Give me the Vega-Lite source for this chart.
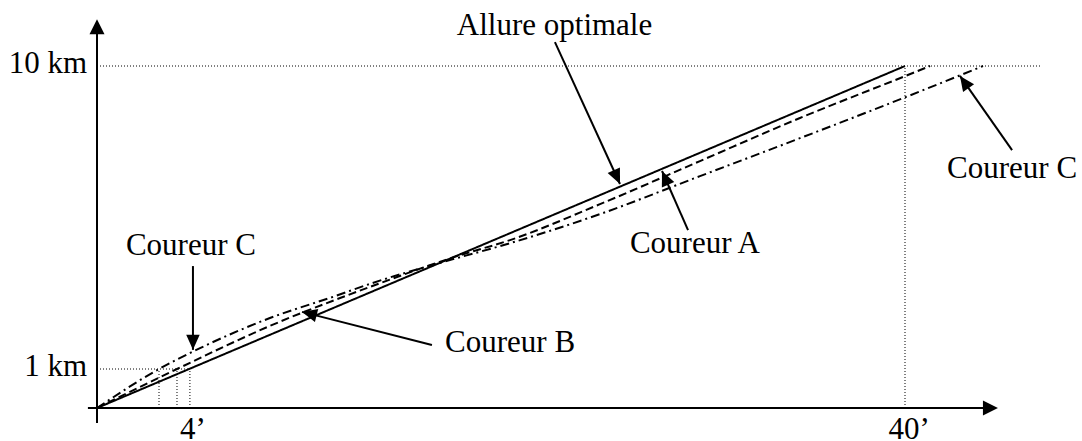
{
  "$schema": "https://vega.github.io/schema/vega-lite/v6.json",
  "width": 1082,
  "height": 441,
  "padding": 0,
  "autosize": "none",
  "background": "white",
  "config": {"view": {"stroke": null}},
  "datasets": {
    "curves": [
      {"runner": "Allure optimale", "m": 0, "km": 0},
      {"runner": "Allure optimale", "m": 40, "km": 10},
      {"runner": "Coureur A", "m": 0, "km": 0},
      {"runner": "Coureur A", "m": 3.96, "km": 1.14},
      {"runner": "Coureur A", "m": 8.56, "km": 2.40},
      {"runner": "Coureur A", "m": 13.51, "km": 3.54},
      {"runner": "Coureur A", "m": 17.82, "km": 4.44},
      {"runner": "Coureur A", "m": 20.45, "km": 4.91},
      {"runner": "Coureur A", "m": 24.90, "km": 5.96},
      {"runner": "Coureur A", "m": 29.85, "km": 7.22},
      {"runner": "Coureur A", "m": 34.80, "km": 8.48},
      {"runner": "Coureur A", "m": 39.90, "km": 9.68},
      {"runner": "Coureur A", "m": 41.24, "km": 10.0},
      {"runner": "Coureur C", "m": 0, "km": 0},
      {"runner": "Coureur C", "m": 3.07, "km": 1.14},
      {"runner": "Coureur C", "m": 5.10, "km": 1.75},
      {"runner": "Coureur C", "m": 8.56, "km": 2.63},
      {"runner": "Coureur C", "m": 11.78, "km": 3.27},
      {"runner": "Coureur C", "m": 13.51, "km": 3.63},
      {"runner": "Coureur C", "m": 17.13, "km": 4.27},
      {"runner": "Coureur C", "m": 20.45, "km": 4.82},
      {"runner": "Coureur C", "m": 24.90, "km": 5.67},
      {"runner": "Coureur C", "m": 29.85, "km": 6.78},
      {"runner": "Coureur C", "m": 34.80, "km": 7.89},
      {"runner": "Coureur C", "m": 39.90, "km": 9.06},
      {"runner": "Coureur C", "m": 43.86, "km": 10.0}
    ],
    "guides": [
      {"m": 0, "km": 10, "m2": 46.78, "km2": 10},
      {"m": 0, "km": 1.14, "m2": 4.6, "km2": 1.14},
      {"m": 3.07, "km": 0, "m2": 3.07, "km2": 1.14},
      {"m": 3.96, "km": 0, "m2": 3.96, "km2": 1.14},
      {"m": 4.6, "km": 0, "m2": 4.6, "km2": 1.14},
      {"m": 40, "km": 0, "m2": 40, "km2": 10}
    ],
    "axes": [
      {"id": "y", "m": 0, "km": -0.44, "m2": 0, "km2": 11.1},
      {"id": "x", "m": -0.45, "km": 0, "m2": 44.3, "km2": 0}
    ],
    "axisTips": [
      {"id": "y", "m": 0, "km": 11.37},
      {"id": "x", "m": 44.6, "km": 0}
    ],
    "arrows": [
      {"id": "opt", "m": 22.67, "km": 10.70, "m2": 25.89, "km2": 6.55},
      {"id": "A", "m": 29.26, "km": 5.20, "m2": 27.97, "km2": 6.93},
      {"id": "B", "m": 16.58, "km": 1.84, "m2": 10.15, "km2": 2.81},
      {"id": "C1", "m": 4.75, "km": 4.15, "m2": 4.75, "km2": 1.70},
      {"id": "C2", "m": 45.30, "km": 7.54, "m2": 42.72, "km2": 9.71}
    ],
    "labels": [
      {"text": "Allure optimale", "m": 22.65, "km": 10.91, "side": "c"},
      {"text": "Coureur A", "m": 29.6, "km": 4.53, "side": "c"},
      {"text": "Coureur B", "m": 20.45, "km": 1.64, "side": "c"},
      {"text": "Coureur C", "m": 4.65, "km": 4.47, "side": "c"},
      {"text": "Coureur C", "m": 45.3, "km": 6.73, "side": "c"},
      {"text": "4’", "m": 4.75, "km": -0.906, "side": "c"},
      {"text": "40’", "m": 40.2, "km": -0.906, "side": "c"},
      {"text": "10 km", "m": -0.495, "km": 9.80, "side": "r"},
      {"text": "1 km", "m": -0.495, "km": 0.936, "side": "r"}
    ]
  },
  "layer": [
    {
      "data": {"name": "guides"},
      "mark": {"type": "rule", "color": "black", "strokeWidth": 1, "strokeDash": [1, 2]},
      "encoding": {
        "x": {"field": "m", "type": "quantitative", "scale": {"domain": [-4.802, 48.762], "nice": false, "zero": false}, "axis": null},
        "y": {"field": "km", "type": "quantitative", "scale": {"domain": [-0.9649, 11.93], "nice": false, "zero": false}, "axis": null},
        "x2": {"field": "m2"},
        "y2": {"field": "km2"}
      }
    },
    {
      "data": {"name": "axes"},
      "mark": {"type": "rule", "color": "black", "strokeWidth": 2},
      "encoding": {
        "x": {"field": "m", "type": "quantitative", "scale": {"domain": [-4.802, 48.762], "nice": false, "zero": false}, "axis": null},
        "y": {"field": "km", "type": "quantitative", "scale": {"domain": [-0.9649, 11.93], "nice": false, "zero": false}, "axis": null},
        "x2": {"field": "m2"},
        "y2": {"field": "km2"}
      }
    },
    {
      "data": {"name": "curves"},
      "mark": {"type": "line", "color": "black", "strokeWidth": 2, "interpolate": "monotone", "strokeCap": "butt"},
      "encoding": {
        "x": {"field": "m", "type": "quantitative", "scale": {"domain": [-4.802, 48.762], "nice": false, "zero": false}, "axis": null},
        "y": {"field": "km", "type": "quantitative", "scale": {"domain": [-0.9649, 11.93], "nice": false, "zero": false}, "axis": null},
        "strokeDash": {"field": "runner", "type": "nominal", "scale": {"domain": ["Allure optimale", "Coureur A", "Coureur C"], "range": [[1, 0], [8, 4], [9, 4, 2, 4]]}, "legend": null}
      }
    },
    {
      "data": {"name": "arrows"},
      "mark": {"type": "rule", "color": "black", "strokeWidth": 2},
      "encoding": {
        "x": {"field": "m", "type": "quantitative", "scale": {"domain": [-4.802, 48.762], "nice": false, "zero": false}, "axis": null},
        "y": {"field": "km", "type": "quantitative", "scale": {"domain": [-0.9649, 11.93], "nice": false, "zero": false}, "axis": null},
        "x2": {"field": "m2"},
        "y2": {"field": "km2"}
      }
    },
    {
      "data": {"name": "axisTips"},
      "transform": [{"filter": "datum.id === 'y'"}],
      "mark": {"type": "point", "shape": "M0,0L-1,2L1,2Z", "size": 225, "filled": true, "color": "black", "opacity": 1, "angle": 0},
      "encoding": {
        "x": {"field": "m", "type": "quantitative", "axis": null},
        "y": {"field": "km", "type": "quantitative", "axis": null}
      }
    },
    {
      "data": {"name": "axisTips"},
      "transform": [{"filter": "datum.id === 'x'"}],
      "mark": {"type": "point", "shape": "M0,0L-1,2L1,2Z", "size": 225, "filled": true, "color": "black", "opacity": 1, "angle": 90},
      "encoding": {
        "x": {"field": "m", "type": "quantitative", "axis": null},
        "y": {"field": "km", "type": "quantitative", "axis": null}
      }
    },
    {
      "data": {"name": "arrows"},
      "transform": [{"filter": "datum.id === 'opt'"}],
      "mark": {"type": "point", "shape": "M0,0L-0.9,2L0.9,2Z", "size": 225, "filled": true, "color": "black", "opacity": 1, "angle": 155.7},
      "encoding": {
        "x": {"field": "m2", "type": "quantitative", "axis": null},
        "y": {"field": "km2", "type": "quantitative", "axis": null}
      }
    },
    {
      "data": {"name": "arrows"},
      "transform": [{"filter": "datum.id === 'A'"}],
      "mark": {"type": "point", "shape": "M0,0L-0.9,2L0.9,2Z", "size": 225, "filled": true, "color": "black", "opacity": 1, "angle": 336.2},
      "encoding": {
        "x": {"field": "m2", "type": "quantitative", "axis": null},
        "y": {"field": "km2", "type": "quantitative", "axis": null}
      }
    },
    {
      "data": {"name": "arrows"},
      "transform": [{"filter": "datum.id === 'B'"}],
      "mark": {"type": "point", "shape": "M0,0L-0.9,2L0.9,2Z", "size": 225, "filled": true, "color": "black", "opacity": 1, "angle": 284.2},
      "encoding": {
        "x": {"field": "m2", "type": "quantitative", "axis": null},
        "y": {"field": "km2", "type": "quantitative", "axis": null}
      }
    },
    {
      "data": {"name": "arrows"},
      "transform": [{"filter": "datum.id === 'C1'"}],
      "mark": {"type": "point", "shape": "M0,0L-0.9,2L0.9,2Z", "size": 225, "filled": true, "color": "black", "opacity": 1, "angle": 180},
      "encoding": {
        "x": {"field": "m2", "type": "quantitative", "axis": null},
        "y": {"field": "km2", "type": "quantitative", "axis": null}
      }
    },
    {
      "data": {"name": "arrows"},
      "transform": [{"filter": "datum.id === 'C2'"}],
      "mark": {"type": "point", "shape": "M0,0L-0.9,2L0.9,2Z", "size": 225, "filled": true, "color": "black", "opacity": 1, "angle": 324.9},
      "encoding": {
        "x": {"field": "m2", "type": "quantitative", "axis": null},
        "y": {"field": "km2", "type": "quantitative", "axis": null}
      }
    },
    {
      "data": {"name": "labels"},
      "transform": [{"filter": "datum.side === 'c'"}],
      "mark": {"type": "text", "font": "Liberation Serif", "fontSize": 31, "color": "black", "align": "center", "baseline": "alphabetic"},
      "encoding": {
        "x": {"field": "m", "type": "quantitative", "axis": null},
        "y": {"field": "km", "type": "quantitative", "axis": null},
        "text": {"field": "text"}
      }
    },
    {
      "data": {"name": "labels"},
      "transform": [{"filter": "datum.side === 'r'"}],
      "mark": {"type": "text", "font": "Liberation Serif", "fontSize": 31, "color": "black", "align": "right", "baseline": "alphabetic"},
      "encoding": {
        "x": {"field": "m", "type": "quantitative", "axis": null},
        "y": {"field": "km", "type": "quantitative", "axis": null},
        "text": {"field": "text"}
      }
    }
  ]
}
